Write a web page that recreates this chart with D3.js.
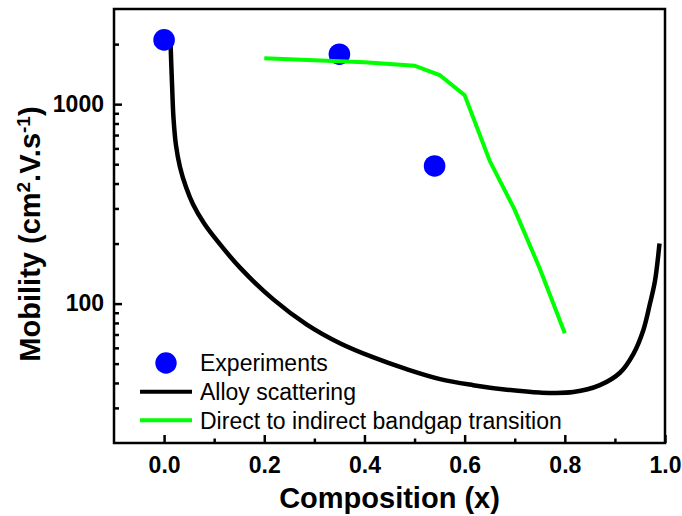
<!DOCTYPE html>
<html>
<head>
<meta charset="utf-8">
<script src="https://cdn.jsdelivr.net/npm/d3@7"></script>
<style>
    body { margin: 0; background: #fff; }
    svg { display: block; }
    text { font-family: "Liberation Sans", Arial, sans-serif; fill: #000; }
</style>
</head>
<body>
<div id="chart"></div>
<script>
var width = 682
var height = 516
const margin = {left: 114, top: 9, right: 17, bottom: 73}

// experiments
var expX = [0.0, 0.35, 0.54]
var expMob = [2100, 1780, 490]

// alloy scattering (black)
var alloyX = [0.0128, 0.0158, 0.0188, 0.0238, 0.0318, 0.0437, 0.0577, 0.0797, 0.105, 0.152, 0.218,
    0.285, 0.351, 0.418, 0.484, 0.551, 0.617, 0.684, 0.75, 0.817, 0.87, 0.91, 0.937, 0.957, 0.97, 0.98, 0.989]
var alloyMob = [2050, 1270, 850, 620, 483, 384, 315, 253, 208, 151, 105,
    78.5, 63.3, 53.7, 46.9, 41.8, 39, 37, 35.8, 36, 39, 45, 56, 74, 100, 130, 200]

// direct to indirect bandgap transition (green)
var bandX = [0.2, 0.3, 0.4, 0.5, 0.55, 0.6, 0.65, 0.7, 0.75, 0.8]
var bandMob = [1700, 1660, 1620, 1560, 1400, 1110, 520, 295, 150, 71]

var xMajor = [0.0, 0.2, 0.4, 0.6, 0.8, 1.0]
var xMinor = [0.1, 0.3, 0.5, 0.7, 0.9]
var yMajor = [100, 1000]
var yMinor = [30, 40, 50, 60, 70, 80, 90, 200, 300, 400, 500, 600, 700, 800, 900, 2000]

var legendLabels = ["Experiments", "Alloy scattering", "Direct to indirect bandgap transition"]

var xScale, yScale, svg

drawChart()

function drawChart()
{
    xScale = d3.scaleLinear()
        .domain([-0.1, 1.0])
        .range([margin.left, width - margin.right])
    yScale = d3.scaleLog()
        .domain([20, 3000])
        .range([height - margin.bottom, margin.top])

    svg = d3.select("#chart")
        .append("svg")
        .attr("width", width)
        .attr("height", height)

    var bottom = height - margin.bottom

    // x axis, ticks pointing in
    svg.append("g")
        .attr("transform", "translate(0," + bottom + ")")
        .call(d3.axisBottom(xScale).tickValues(xMajor).tickSize(-8).tickSizeOuter(0)
            .tickPadding(13.4).tickFormat(d3.format(".1f")))
    svg.append("g")
        .attr("transform", "translate(0," + bottom + ")")
        .call(d3.axisBottom(xScale).tickValues(xMinor).tickSize(-4.5).tickSizeOuter(0).tickFormat(""))

    // y axis
    svg.append("g")
        .attr("transform", "translate(" + margin.left + ",0)")
        .call(d3.axisLeft(yScale).tickValues(yMajor).tickSize(-8).tickSizeOuter(0)
            .tickPadding(10).tickFormat(d3.format("d")))
    svg.append("g")
        .attr("transform", "translate(" + margin.left + ",0)")
        .call(d3.axisLeft(yScale).tickValues(yMinor).tickSize(-5).tickSizeOuter(0).tickFormat(""))

    svg.selectAll(".domain").remove()
    svg.selectAll(".tick line").attr("stroke", "#000").attr("stroke-width", 2.5)
    svg.selectAll(".tick text")
        .attr("fill", "#000")
        .style("font-family", "'Liberation Sans', Arial, sans-serif")
        .style("font-size", "23px")
        .style("font-weight", "bold")

    // frame
    svg.append("rect")
        .attr("x", margin.left)
        .attr("y", margin.top)
        .attr("width", width - margin.left - margin.right)
        .attr("height", height - margin.top - margin.bottom)
        .attr("fill", "none")
        .attr("stroke", "#000")
        .attr("stroke-width", 2.5)

    // curves
    var alloyLine = d3.line()
        .x(function(d, i) { return xScale(alloyX[i]) })
        .y(function(d) { return yScale(d) })
        .curve(d3.curveCatmullRom.alpha(0.5))
    svg.append("path")
        .datum(alloyMob)
        .attr("d", alloyLine)
        .attr("fill", "none")
        .attr("stroke", "#000")
        .attr("stroke-width", 4.5)

    svg.selectAll("circle.exp")
        .data(expMob)
        .enter()
        .append("circle")
        .attr("class", "exp")
        .attr("cx", function(d, i) { return xScale(expX[i]) })
        .attr("cy", function(d) { return yScale(d) })
        .attr("r", 10.8)
        .attr("fill", "#0000ff")

    var bandLine = d3.line()
        .x(function(d, i) { return xScale(bandX[i]) })
        .y(function(d) { return yScale(d) })
    svg.append("path")
        .datum(bandMob)
        .attr("d", bandLine)
        .attr("fill", "none")
        .attr("stroke", "#00ff00")
        .attr("stroke-width", 4)

    // legend
    var lg = svg.append("g")
    var rowY = [363, 391.7, 420.3]
    lg.append("circle")
        .attr("cx", 166).attr("cy", rowY[0]).attr("r", 10.7).attr("fill", "#0000ff")
    lg.append("line")
        .attr("x1", 140).attr("x2", 192).attr("y1", rowY[1]).attr("y2", rowY[1])
        .attr("stroke", "#000").attr("stroke-width", 4)
    lg.append("line")
        .attr("x1", 140).attr("x2", 192).attr("y1", rowY[2]).attr("y2", rowY[2])
        .attr("stroke", "#00ff00").attr("stroke-width", 4)
    lg.selectAll("text")
        .data(legendLabels)
        .enter()
        .append("text")
        .attr("x", 200)
        .attr("y", function(d, i) { return rowY[i] + 8.3 })
        .style("font-size", "23px")
        .text(function(d) { return d })

    // axis titles
    svg.append("text")
        .attr("x", (margin.left + width - margin.right) / 2)
        .attr("y", 508)
        .attr("text-anchor", "middle")
        .style("font-size", "29px")
        .style("font-weight", "bold")
        .text("Composition (x)")

    var yl = svg.append("text")
        .attr("transform", "translate(40,234) rotate(-90)")
        .attr("text-anchor", "middle")
        .style("font-size", "29px")
        .style("font-weight", "bold")
    yl.append("tspan").text("Mobility (cm")
    yl.append("tspan").attr("baseline-shift", "super").style("font-size", "19px").text("2")
    yl.append("tspan").text(".V.s")
    yl.append("tspan").attr("baseline-shift", "super").style("font-size", "19px").text("-1")
    yl.append("tspan").text(")")
}
</script>
</body>
</html>
